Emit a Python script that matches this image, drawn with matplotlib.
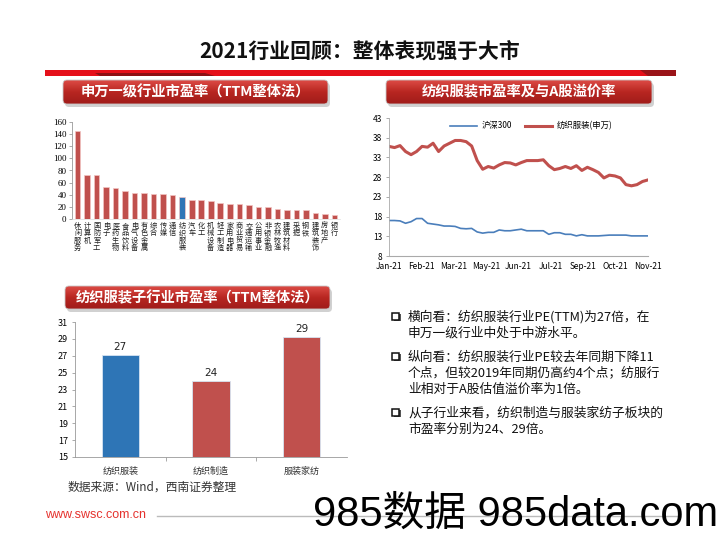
import numpy as np
import matplotlib.pyplot as plt
from matplotlib.patches import FancyBboxPatch, Rectangle, Polygon
from matplotlib.colors import LinearSegmentedColormap

plt.rcParams['font.family'] = ['Noto Sans CJK SC', 'DejaVu Sans']
plt.rcParams['axes.unicode_minus'] = False

# ---- data ----
sw_names = ['休闲服务', '计算机', '国防军工', '电子', '医药生物', '食品饮料', '电气设备',
            '有色金属', '综合', '传媒', '通信', '纺织服装', '汽车', '化工', '机械设备',
            '轻工制造', '家用电器', '商业贸易', '交通运输', '公用事业', '非银金融',
            '农林牧渔', '建筑材料', '采掘', '钢铁', '建筑装饰', '房地产', '银行']
sw_pe = [145, 73, 72, 53, 51, 47, 43, 43, 41, 41, 39, 37, 32, 31, 29,
         27, 25, 25, 23, 20, 19, 17, 15, 15, 15, 10, 9, 6]
highlight = '纺织服装'

hs300 = [17.0, 17.0, 16.9, 16.3, 16.7, 17.5, 17.5, 16.3, 16.1, 15.9, 15.6, 15.6,
         15.5, 15.0, 14.9, 15.0, 14.1, 13.8, 14.0, 14.0, 14.6, 14.4, 14.4, 14.6,
         14.8, 14.4, 14.4, 14.4, 14.4, 13.5, 13.9, 13.9, 13.5, 13.5, 13.1, 13.4,
         13.1, 13.1, 13.1, 13.2, 13.3, 13.3, 13.3, 13.3, 13.1, 13.1, 13.1, 13.1]
fz_pe = [35.8, 35.5, 36.0, 34.5, 33.7, 34.5, 35.8, 35.6, 36.6, 34.5, 35.9, 36.6,
         37.3, 37.3, 37.0, 35.9, 32.2, 30.0, 30.7, 30.3, 31.1, 31.7, 31.6, 31.1,
         31.7, 32.2, 32.2, 32.2, 32.4, 30.9, 29.9, 30.2, 30.7, 30.2, 30.9, 29.7,
         30.5, 29.9, 29.2, 27.8, 28.5, 28.3, 27.8, 26.1, 25.8, 26.1, 26.9, 27.3]
month_labels = ['Jan-21', 'Feb-21', 'Mar-21', 'May-21', 'Jun-21', 'Jul-21',
                'Sep-21', 'Oct-21', 'Nov-21']

sub_names = ['纺织服装', '纺织制造', '服装家纺']
sub_pe = [27.1, 24.0, 29.2]

bullets = [
    ['横向看：纺织服装行业PE(TTM)为27倍，在', '申万一级行业中处于中游水平。'],
    ['纵向看：纺织服装行业PE较去年同期下降11', '个点，但较2019年同期仍高约4个点；纺服行',
     '业相对于A股估值溢价率为1倍。'],
    ['从子行业来看，纺织制造与服装家纺子板块的', '市盈率分别为24、29倍。'],
]

RED = '#C0504D'
BLUE = '#2E75B6'
W, H = 720, 540

fig = plt.figure(figsize=(W / 100, H / 100), dpi=100)

# background layer in pixel coordinates
bg = fig.add_axes([0, 0, 1, 1])
bg.set_xlim(0, W)
bg.set_ylim(H, 0)
bg.axis('off')


def pix_axes(x0, y0, x1, y1):
    return fig.add_axes([x0 / W, 1 - y1 / H, (x1 - x0) / W, (y1 - y0) / H])


hdr_cmap = LinearSegmentedColormap.from_list('hdr', ['#DC4B45', '#B82621', '#A01C1A'])


def header(x0, y0, x1, y1, text):
    bg.add_patch(FancyBboxPatch((x0 + 2, y0 + 3), x1 - x0, y1 - y0,
                                boxstyle='round,pad=0,rounding_size=4',
                                fc='#9A9A9A', ec='none', alpha=0.45, zorder=1))
    box = FancyBboxPatch((x0, y0), x1 - x0, y1 - y0,
                         boxstyle='round,pad=0,rounding_size=4',
                         fc='none', ec='#C9C9C9', lw=0.6, zorder=3)
    bg.add_patch(box)
    grad = np.linspace(0, 1, 64).reshape(-1, 1)
    im = bg.imshow(grad, cmap=hdr_cmap, extent=(x0, x1, y1, y0), aspect='auto', zorder=2)
    im.set_clip_path(box)
    bg.text((x0 + x1) / 2, (y0 + y1) / 2 + 0.5, text, color='white', fontsize=10.3,
            weight='bold', ha='center', va='center', zorder=4)


# title and rule
bg.text(360, 51, '2021行业回顾：整体表现强于大市', fontsize=15, weight='bold',
        ha='center', va='center', color='#111111')
bg.add_patch(Rectangle((45, 70), 631, 6, fc='#E5101A', ec='none'))
bg.add_patch(Polygon([(95, 73), (205, 73), (215, 76), (100, 76)], closed=True,
                     fc='#8E1014', ec='none'))
bg.add_patch(Polygon([(640, 70), (676, 70), (676, 76), (648, 76)], closed=True,
                     fc='#9A1418', ec='none'))

header(63, 80, 328, 104, '申万一级行业市盈率（TTM整体法）')
header(386, 80, 652, 104, '纺织服装市盈率及与A股溢价率')
header(65, 286, 330, 309, '纺织服装子行业市盈率（TTM整体法）')

# ---- chart 1: SW industries PE ----
ax1 = pix_axes(72, 122, 340, 219)
x1 = np.arange(len(sw_names))
cols = [BLUE if n == highlight else RED for n in sw_names]
ax1.bar(x1, sw_pe, width=0.58, color=cols, edgecolor='#F2C4C3', linewidth=0.5)
ax1.set_xlim(-0.6, len(sw_names) - 0.4)
ax1.set_ylim(0, 160)
ax1.set_yticks(np.arange(0, 161, 20))
ax1.set_yticklabels([str(v) for v in range(0, 161, 20)], fontsize=6.5,
                    family='Liberation Serif')
ax1.set_xticks(x1)
ax1.set_xticklabels(['\n'.join(n) for n in sw_names], fontsize=5.2, linespacing=0.9,
                    va='top', color='#222222')
ax1.tick_params(axis='x', length=0, pad=2)
ax1.tick_params(axis='y', length=2, width=0.5, color='#888888', pad=2)
for s in ['top', 'right']:
    ax1.spines[s].set_visible(False)
ax1.spines['left'].set_color('#999999')
ax1.spines['left'].set_linewidth(0.6)
ax1.spines['bottom'].set_color('#DDDDDD')
ax1.spines['bottom'].set_linewidth(0.5)

# ---- chart 2: PE lines ----
ax2 = pix_axes(389, 118, 648, 256)
xw = np.arange(len(fz_pe))
ax2.plot(xw, hs300, color='#4A7EBB', lw=1.2, label='沪深300')
ax2.plot(xw, fz_pe, color=RED, lw=2.2, label='纺织服装(申万)')
ax2.set_xlim(0, len(fz_pe) - 1)
ax2.set_ylim(8, 43)
ax2.set_yticks(np.arange(8, 44, 5))
ax2.tick_params(axis='y', labelsize=6, length=2, width=0.5, color='#888888', pad=3)
ax2.set_xticks(np.linspace(0, len(fz_pe) - 1, len(month_labels)))
ax2.set_xticklabels(month_labels, fontsize=6)
ax2.tick_params(axis='x', length=0, pad=4)
for s in ['top', 'right']:
    ax2.spines[s].set_visible(False)
ax2.spines['left'].set_color('#AAAAAA')
ax2.spines['left'].set_linewidth(0.6)
ax2.spines['bottom'].set_color('#AAAAAA')
ax2.spines['bottom'].set_linewidth(0.8)
ax2.legend(loc='upper center', bbox_to_anchor=(0.55, 1.03), ncol=2, frameon=False,
           fontsize=6, handlelength=3.2, columnspacing=1.5, handletextpad=0.6)

# ---- chart 3: sub-industries ----
ax3 = pix_axes(75, 322, 347, 457)
x3 = np.arange(len(sub_names))
ax3.bar(x3, np.array(sub_pe) - 15, bottom=15, width=0.41,
        color=[BLUE, RED, RED], edgecolor='#D6E4F2', linewidth=0.6)
for xi, v in zip(x3, sub_pe):
    ax3.text(xi, v + 0.35, f'{v:.0f}', ha='center', va='bottom', fontsize=7.5,
             family='DejaVu Sans', color='#222222')
ax3.set_xlim(-0.5, 2.5)
ax3.set_ylim(15, 31)
ax3.set_yticks(np.arange(15, 32, 2))
ax3.tick_params(axis='y', labelsize=6.5, length=2, width=0.5, color='#888888', pad=3)
ax3.set_xticks(x3)
ax3.set_xticklabels(sub_names, fontsize=6.5, color='#333333')
ax3.set_xticks([0.5, 1.5], minor=True)
ax3.tick_params(axis='x', which='major', length=0, pad=7)
ax3.tick_params(axis='x', which='minor', length=3, width=0.5, color='#888888')
for s in ['top', 'right']:
    ax3.spines[s].set_visible(False)
for s in ['left', 'bottom']:
    ax3.spines[s].set_color('#999999')
    ax3.spines[s].set_linewidth(0.6)

# ---- bullet text ----
y = 317
for para in bullets:
    bg.add_patch(Rectangle((393.5, y - 3), 7, 7, fc='#555555', ec='none'))
    bg.add_patch(Rectangle((392, y - 4.5), 7, 7, fc='white', ec='#111111', lw=1.1))
    for line in para:
        bg.text(408, y, line, fontsize=9.2, ha='left', va='center', color='#111111')
        y += 16
    y += 8

# ---- footer ----
bg.text(68, 487, '数据来源：Wind，西南证券整理', fontsize=8.5, style='italic',
        ha='left', va='center', color='#333333')
bg.text(45, 515, 'www.swsc.com.cn', fontsize=9, color='#E5322D', ha='left',
        va='center', family=['Liberation Sans', 'DejaVu Sans'])
bg.plot([157, 680], [516, 516], color='#BBBBBB', lw=1)
bg.text(313, 515, '985数据 985data.com', fontsize=30, color='black', ha='left',
        va='center', family=['Liberation Sans', 'Noto Sans CJK SC'])

bg.set_xlim(0, W)
bg.set_ylim(H, 0)

fig.savefig('out.png', dpi=100)
